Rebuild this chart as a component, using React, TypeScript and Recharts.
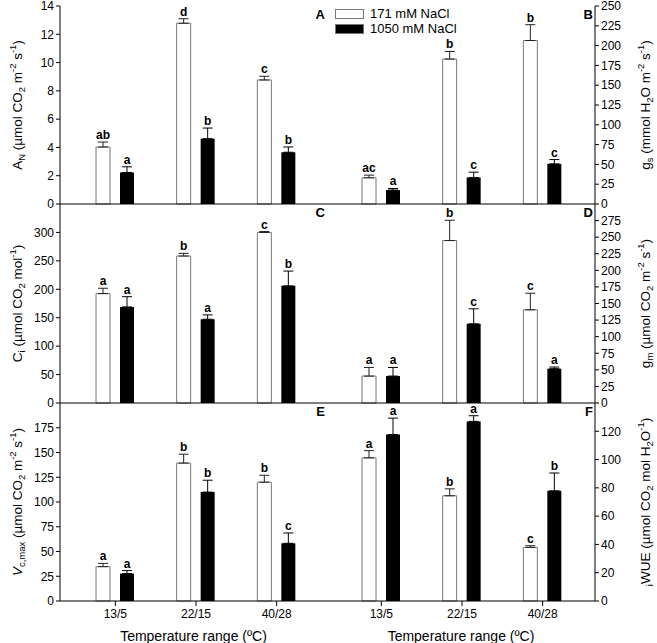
import React from 'react';
import { BarChart, Bar, XAxis, YAxis, ErrorBar, LabelList, Legend } from 'recharts';

const categories = ['13/5', '22/15', '40/28'];
const seriesNames = ['171 mM NaCl', '1050 mM NaCl'];

// A: net CO2 assimilation
const an171 = [4.03, 12.78, 8.77];
const an171Err = [0.35, 0.32, 0.26];
const an171Sig = ['ab', 'd', 'c'];
const an1050 = [2.23, 4.62, 3.66];
const an1050Err = [0.4, 0.75, 0.37];
const an1050Sig = ['a', 'b', 'b'];
const anTicks = [0, 2, 4, 6, 8, 10, 12, 14];

// B: stomatal conductance
const gs171 = [33.1, 183, 206.4];
const gs171Err = [3.3, 9.6, 20];
const gs171Sig = ['ac', 'b', 'b'];
const gs1050 = [17.6, 33.5, 50.7];
const gs1050Err = [2, 6.7, 5.4];
const gs1050Sig = ['a', 'c', 'c'];
const gsTicks = [0, 25, 50, 75, 100, 125, 150, 175, 200, 225, 250];

// C: intercellular CO2
const ci171 = [192.4, 258.5, 300];
const ci171Err = [9.4, 4.7, 1.5];
const ci171Sig = ['a', 'b', 'c'];
const ci1050 = [169, 147.4, 206];
const ci1050Err = [18, 7.6, 26];
const ci1050Sig = ['a', 'a', 'b'];
const ciTicks = [0, 50, 100, 150, 200, 250, 300];

// D: mesophyll conductance
const gm171 = [40.6, 244.9, 140.5];
const gm171Err = [13, 30.6, 25];
const gm171Sig = ['a', 'b', 'c'];
const gm1050 = [40.6, 119.4, 51.7];
const gm1050Err = [13, 22.6, 2.5];
const gm1050Sig = ['a', 'c', 'a'];
const gmTicks = [0, 25, 50, 75, 100, 125, 150, 175, 200, 225, 250, 275];

// E: Vcmax
const vc171 = [34.7, 139.3, 120];
const vc171Err = [3.3, 9, 7];
const vc171Sig = ['a', 'b', 'b'];
const vc1050 = [27.7, 110, 58.3];
const vc1050Err = [3, 12, 10.4];
const vc1050Sig = ['a', 'b', 'c'];
const vcTicks = [0, 25, 50, 75, 100, 125, 150, 175];

// F: intrinsic water use efficiency
const wue171 = [101.2, 74.4, 37.9];
const wue171Err = [5.1, 4.9, 1.2];
const wue171Sig = ['a', 'b', 'c'];
const wue1050 = [117.7, 127, 77.9];
const wue1050Err = [11.6, 4, 12.6];
const wue1050Sig = ['a', 'a', 'b'];
const wueTicks = [0, 20, 40, 60, 80, 100, 120];

type Part = [string, 'n' | 'sub' | 'sup' | 'it'];

const makeRows = (lo: number[], loErr: number[], loSig: string[], hi: number[], hiErr: number[], hiSig: string[]) =>
  categories.map((cat, i) => ({
    cat,
    lo: lo[i], loErr: [0, loErr[i]], loSig: loSig[i],
    hi: hi[i], hiErr: [0, hiErr[i]], hiSig: hiSig[i],
  }));

function Rich({ parts, size }: { parts: Part[]; size: number }) {
  let shift = 0;
  return (
    <>
      {parts.map(([t, k], i) => {
        const target = k === 'sub' ? size * 0.3 : k === 'sup' ? -size * 0.4 : 0;
        const dy = target - shift;
        shift = target;
        const small = k === 'sub' || k === 'sup';
        return (
          <tspan key={i} dy={dy} fontSize={small ? size * 0.7 : size} fontStyle={k === 'it' ? 'italic' : undefined}>
            {t}
          </tspan>
        );
      })}
    </>
  );
}

const letterProps = { textAnchor: 'end' as const, fontSize: 13, fontWeight: 'bold', fill: '#000' };

// value-axis label: rotated title, plus the panel letter in the top right corner of the plot
function AxisTitle(props: any) {
  const vb = props.viewBox || {};
  const isLeft = props.side === 'left';
  const tx = isLeft ? vb.x + 17 : vb.x + 50;
  const ty = vb.y + vb.height / 2;
  const letterX = isLeft ? vb.x + vb.width + props.plotWidth - 2 : vb.x - 2;
  return (
    <g>
      <text x={letterX} y={vb.y + 12.5} {...letterProps}>
        {props.letter}
      </text>
      <text x={tx} y={ty} transform={`rotate(-90 ${tx} ${ty})`} textAnchor="middle" dominantBaseline="central" fill="#000">
        <Rich parts={props.parts} size={13.5} />
      </text>
    </g>
  );
}

function XTitle(props: any) {
  const vb = props.viewBox || {};
  return (
    <text x={vb.x + vb.width / 2} y={vb.y + 40} textAnchor="middle" fontSize={14} fill="#000">
      Temperature range (ºC)
    </text>
  );
}

const sigLabel = (rows: any[], valKey: string, errKey: string, sigKey: string) => (p: any) => {
  const vb = p.viewBox || p;
  const r = rows[p.index];
  if (!r) return null;
  const h = Math.abs(vb.height);
  const top = Math.min(vb.y, vb.y + vb.height);
  const errPx = (r[errKey][1] * h) / r[valKey];
  return (
    <text x={vb.x + vb.width / 2} y={top - errPx - 3} textAnchor="middle" fontSize={12} fontWeight="bold" fill="#000">
      {r[sigKey]}
    </text>
  );
};

function LegendBox() {
  const row = (fill: string, label: string) => (
    <div style={{ display: 'flex', alignItems: 'center', height: 15, whiteSpace: 'nowrap' }}>
      <span style={{ display: 'inline-block', flexShrink: 0, width: 27, height: 8, background: fill, border: '1px solid #777', marginRight: 6 }} />
      <span style={{ fontSize: 13, color: '#000', lineHeight: '15px' }}>{label}</span>
    </div>
  );
  return (
    <div style={{ width: 140 }}>
      {row('#fff', seriesNames[0])}
      {row('#000', seriesNames[1])}
    </div>
  );
}

type PanelProps = {
  letter: string;
  side: 'left' | 'right';
  plotTop: number;
  plotBottom: number;
  rows: any[];
  domain: [number, number];
  ticks: number[];
  title: Part[];
  bottom: boolean;
  legend?: boolean;
};

function Panel({ letter, side, plotTop, plotBottom, rows, domain, ticks, title, bottom, legend }: PanelProps) {
  const isLeft = side === 'left';
  const mt = Math.min(10, plotTop);
  const bottomH = bottom ? 42 : 10;
  const height = plotBottom - plotTop + mt + bottomH;
  const width = isLeft ? 330 : 335;
  const left = isLeft ? 0 : 322;
  const axisW = isLeft ? 60 : 62;
  const plotWidth = width - axisW - (isLeft ? 3 : 5);
  const axisStyle = { stroke: '#000', strokeWidth: 1 };
  return (
    <div style={{ position: 'absolute', left, top: plotTop - mt }}>
      <BarChart
        width={width}
        height={height}
        data={rows}
        barSize={14}
        barGap={10}
        margin={isLeft ? { top: mt, right: 3, bottom: 0, left: 0 } : { top: mt, right: 0, bottom: 0, left: 5 }}
      >
        <XAxis
          xAxisId="x"
          dataKey="cat"
          height={bottomH}
          interval={0}
          tickSize={5}
          tickMargin={3}
          axisLine={axisStyle}
          tickLine={axisStyle}
          tick={bottom ? { fontSize: 12, fill: '#000' } : false}
          padding={isLeft ? { left: 15, right: 10 } : { left: 14, right: 12 }}
          label={bottom ? <XTitle /> : undefined}
        />
        <XAxis xAxisId="t" dataKey="cat" orientation="top" height={0} tick={false} tickLine={false} axisLine={axisStyle} />
        <YAxis
          yAxisId="v"
          orientation={side}
          width={axisW}
          domain={domain}
          ticks={ticks}
          interval={0}
          tickSize={4}
          tickMargin={2}
          axisLine={axisStyle}
          tickLine={axisStyle}
          tick={{ fontSize: 12, fill: '#000' }}
          label={<AxisTitle side={side} letter={letter} parts={title} plotWidth={plotWidth} />}
        />
        <YAxis
          yAxisId="b"
          orientation={isLeft ? 'right' : 'left'}
          width={0}
          domain={domain}
          tick={false}
          tickLine={false}
          axisLine={axisStyle}
        />
        {legend && (
          <Legend
            layout="vertical"
            align="center"
            verticalAlign="middle"
            content={<LegendBox />}
            wrapperStyle={{ left: 13, top: 6, width: 140, height: 30 }}
          />
        )}
        <Bar xAxisId="x" yAxisId="v" dataKey="lo" name={seriesNames[0]} fill="#fff" stroke="#777" strokeWidth={1} isAnimationActive={false}>
          <ErrorBar dataKey="loErr" direction="y" width={5} stroke="#222" strokeWidth={1} />
          <LabelList dataKey="loSig" content={sigLabel(rows, 'lo', 'loErr', 'loSig')} />
        </Bar>
        <Bar xAxisId="x" yAxisId="v" dataKey="hi" name={seriesNames[1]} fill="#000" isAnimationActive={false}>
          <ErrorBar dataKey="hiErr" direction="y" width={5} stroke="#000" strokeWidth={1} />
          <LabelList dataKey="hiSig" content={sigLabel(rows, 'hi', 'hiErr', 'hiSig')} />
        </Bar>
      </BarChart>
    </div>
  );
}

const co2m2s: Part[] = [[' (µmol CO', 'n'], ['2', 'sub'], [' m', 'n'], ['-2', 'sup'], [' s', 'n'], ['-1', 'sup'], [')', 'n']];

export default function App() {
  return (
    <div style={{ position: 'absolute', left: 0, top: 0, width: 657, height: 643, background: '#fff', fontFamily: '"Liberation Sans", Arial, sans-serif', overflow: 'hidden' }}>
      <Panel letter="A" side="left" plotTop={6} plotBottom={204} bottom={false}
        rows={makeRows(an171, an171Err, an171Sig, an1050, an1050Err, an1050Sig)}
        domain={[0, 14]} ticks={anTicks} title={[['A', 'n'], ['N', 'sub'], ...co2m2s]} />
      <Panel letter="B" side="right" plotTop={6} plotBottom={204} bottom={false} legend
        rows={makeRows(gs171, gs171Err, gs171Sig, gs1050, gs1050Err, gs1050Sig)}
        domain={[0, 250]} ticks={gsTicks}
        title={[['g', 'n'], ['s', 'sub'], [' (mmol H', 'n'], ['2', 'sub'], ['O m', 'n'], ['-2', 'sup'], [' s', 'n'], ['-1', 'sup'], [')', 'n']]} />
      <Panel letter="C" side="left" plotTop={204} plotBottom={403} bottom={false}
        rows={makeRows(ci171, ci171Err, ci171Sig, ci1050, ci1050Err, ci1050Sig)}
        domain={[0, 350]} ticks={ciTicks}
        title={[['C', 'n'], ['i', 'sub'], [' (µmol CO', 'n'], ['2', 'sub'], [' mol', 'n'], ['-1', 'sup'], [')', 'n']]} />
      <Panel letter="D" side="right" plotTop={204} plotBottom={403} bottom={false}
        rows={makeRows(gm171, gm171Err, gm171Sig, gm1050, gm1050Err, gm1050Sig)}
        domain={[0, 300]} ticks={gmTicks} title={[['g', 'n'], ['m', 'sub'], ...co2m2s]} />
      <Panel letter="E" side="left" plotTop={403} plotBottom={601} bottom
        rows={makeRows(vc171, vc171Err, vc171Sig, vc1050, vc1050Err, vc1050Sig)}
        domain={[0, 200]} ticks={vcTicks} title={[['V', 'it'], ['c,max', 'sub'], ...co2m2s]} />
      <Panel letter="F" side="right" plotTop={403} plotBottom={601} bottom
        rows={makeRows(wue171, wue171Err, wue171Sig, wue1050, wue1050Err, wue1050Sig)}
        domain={[0, 140]} ticks={wueTicks}
        title={[['i', 'sub'], ['WUE (µmol CO', 'n'], ['2', 'sub'], [' mol H', 'n'], ['2', 'sub'], ['O', 'n'], ['-1', 'sup'], [')', 'n']]} />
    </div>
  );
}
